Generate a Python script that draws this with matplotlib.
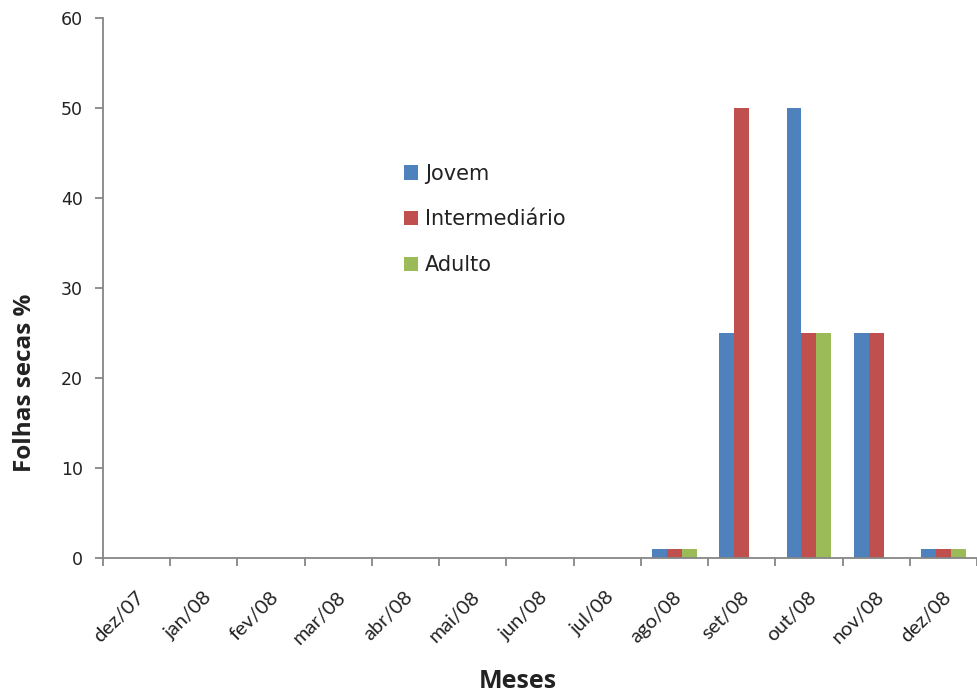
import matplotlib
matplotlib.use("Agg")
import matplotlib.pyplot as plt
import numpy as np
from matplotlib.patches import Patch

months = ["dez/07", "jan/08", "fev/08", "mar/08", "abr/08", "mai/08", "jun/08",
          "jul/08", "ago/08", "set/08", "out/08", "nov/08", "dez/08"]
jovem = [0, 0, 0, 0, 0, 0, 0, 0, 1, 25, 50, 25, 1]
intermediario = [0, 0, 0, 0, 0, 0, 0, 0, 1, 50, 25, 25, 1]
adulto = [0, 0, 0, 0, 0, 0, 0, 0, 1, 0, 25, 0, 1]
series_names = ["Jovem", "Intermediário", "Adulto"]
colors = ["#4F81BD", "#C0504D", "#9BBB59"]
yticks = [0, 10, 20, 30, 40, 50, 60]

W, H = 977, 697
fig = plt.figure(figsize=(W / 100, H / 100), dpi=100)
ax = fig.add_axes([103 / W, 1 - 558 / H, (W - 103) / W, (558 - 18) / H])

n = len(months)
x = np.arange(n)
bw = 1 / 4.5
for i, (vals, c, name) in enumerate(zip([jovem, intermediario, adulto], colors, series_names)):
    ax.bar(x + (i - 1) * bw, vals, width=bw, color=c, label=name, linewidth=0)

axis_col = "#868686"
txt_col = "#222222"
ax.set_xlim(-0.5, n - 0.5)
ax.set_ylim(0, 60)
ax.set_yticks(yticks)
ax.set_yticklabels([str(v) for v in yticks], fontsize=12.5, color=txt_col,
                   family="DejaVu Sans")
for s in ["top", "right"]:
    ax.spines[s].set_visible(False)
for s in ["left", "bottom"]:
    ax.spines[s].set_color(axis_col)
    ax.spines[s].set_linewidth(1.3)
ax.tick_params(axis="y", length=6, width=1.3, color=axis_col, pad=8.5)

# ticks between categories, labels at category centres
ax.set_xticks(np.arange(n + 1) - 0.5)
ax.set_xticklabels([])
ax.tick_params(axis="x", length=6, width=1.3, color=axis_col)
for xi, lab in zip(x, months):
    ax.annotate(lab, xy=(xi, 0), xycoords="data", xytext=(3.5, -26),
                textcoords="offset points", rotation=45, rotation_mode="anchor",
                ha="right", va="center", fontsize=14.5, color=txt_col, family="Lato")

fig.text(25 / W, 1 - 383 / H, "Folhas secas %", rotation=90, ha="center", va="center",
         fontsize=17.5, fontweight="bold", family="Open Sans", color=txt_col)
fig.text(518 / W, 1 - 682 / H, "Meses", ha="center", va="center",
         fontsize=18, fontweight="bold", family="Open Sans", color=txt_col)

handles = [Patch(facecolor=c, edgecolor="none") for c in colors]
leg = ax.legend(handles, series_names, loc="upper left",
                bbox_to_anchor=(385 / W, 1 - 145 / H), bbox_transform=fig.transFigure,
                frameon=False, prop={"family": "DejaVu Sans", "size": 15},
                labelspacing=1.23, handlelength=0.67, handleheight=0.67,
                handletextpad=0.34)
for t in leg.get_texts():
    t.set_color(txt_col)

fig.savefig("out.png", dpi=100)
